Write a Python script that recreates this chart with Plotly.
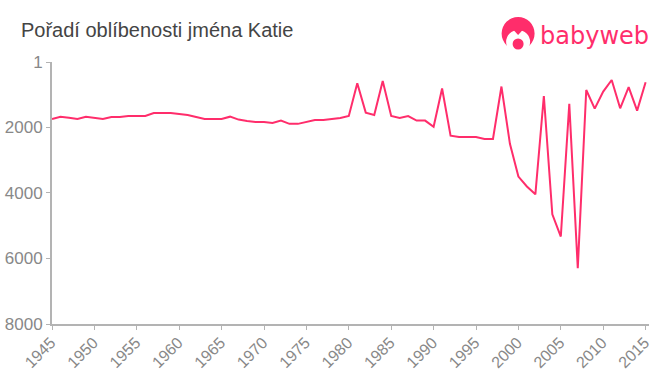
import plotly.graph_objects as go

years = list(range(1945, 2016))
ranks = [1740, 1670, 1700, 1740, 1670, 1710, 1740, 1680, 1680, 1650,
         1650, 1650, 1560, 1560, 1560, 1590, 1620, 1680, 1740, 1740,
         1740, 1670, 1760, 1800, 1830, 1830, 1860, 1790, 1890, 1890,
         1830, 1770, 1770, 1740, 1710, 1650, 650, 1547, 1620, 580,
         1650, 1710, 1650, 1790, 1790, 1980, 810, 2250, 2290, 2290,
         2290, 2350, 2350, 750, 2500, 3500, 3800, 4040, 1040, 4650,
         5330, 1280, 6300, 855, 1425, 905, 550, 1415, 770, 1485, 620]
x_ticks = list(range(1945, 2016, 5))
y_ticks = [1, 2000, 4000, 6000, 8000]
title_text = "Pořadí oblíbenosti jména Katie"
brand = "babyweb"

PINK = "#ff2d6b"
W, H = 660, 375
L, R, T, B = 52, 649.5, 62, 324


def px(v):
    return (v - L) / (R - L)


def py(v):
    return (B - v) / (B - T)


def circle(cx, cy, r, fill):
    return dict(type="circle", xref="paper", yref="paper", fillcolor=fill, line_width=0,
                x0=px(cx - r), x1=px(cx + r), y0=py(cy + r), y1=py(cy - r))


fig = go.Figure(go.Scatter(x=years, y=ranks, mode="lines",
                           line=dict(color=PINK, width=2), hoverinfo="skip"))

axis_style = dict(showgrid=False, zeroline=False, showline=True, linecolor="#b3b3b3",
                  linewidth=2, ticks="outside", tickcolor="#b3b3b3", tickwidth=1,
                  ticklen=4, automargin=False)

fig.update_layout(
    width=W, height=H, autosize=False, paper_bgcolor="white", plot_bgcolor="white",
    margin=dict(l=L, r=W - R, t=T, b=H - B, pad=0),
    showlegend=False,
    xaxis=dict(range=[1945, 2015.4], tickmode="array", tickvals=x_ticks,
               ticktext=[str(v) for v in x_ticks], tickangle=-45, ticklabelstandoff=-3,
               ticklabelshift=-1,
               tickfont=dict(family="Liberation Sans", size=16, color="#888888"), **axis_style),
    yaxis=dict(range=[8000, 1], tickmode="array", tickvals=y_ticks,
               ticktext=[str(v) for v in y_ticks],
               tickfont=dict(family="Liberation Sans", size=17, color="#888888"), **axis_style),
    annotations=[
        dict(text=title_text, xref="paper", yref="paper", x=px(20), y=py(30),
             xanchor="left", yanchor="middle", showarrow=False,
             xshift=-1, font=dict(family="Liberation Sans", size=20, color="#444444")),
        dict(text=brand, xref="paper", yref="paper", x=px(652), y=py(36),
             xanchor="right", yanchor="middle", showarrow=False,
             font=dict(family="DejaVu Sans", size=24, color=PINK)),
    ],
    shapes=[
        circle(518.5, 33.5, 16.5, PINK),
        circle(518.5, 42, 12, "white"),
        dict(type="path", xref="paper", yref="paper", fillcolor=PINK, line_width=0,
             path=f"M {px(513)} {py(29)} L {px(524)} {py(29)} L {px(518.5)} {py(35)} Z"),
        circle(518.5, 44, 5.5, PINK),
    ],
)
fig.write_html("out.html", config={"displayModeBar": False},
               post_script="document.body.style.margin='0';")
